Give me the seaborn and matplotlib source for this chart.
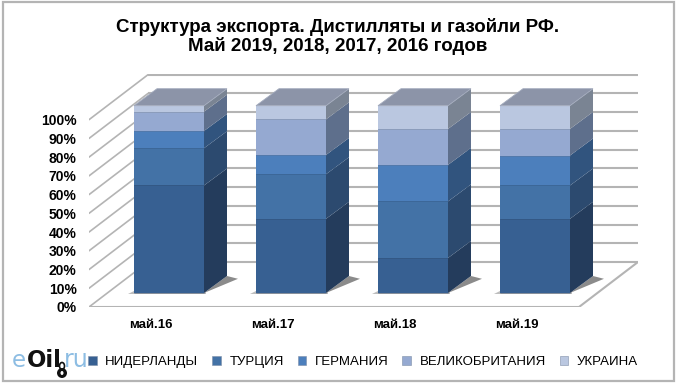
import matplotlib
matplotlib.use("Agg")
import matplotlib.pyplot as plt
from matplotlib.patches import Polygon, Rectangle, Ellipse
import seaborn as sns

W, H = 680, 385

# data
months = ["май.16", "май.17", "май.18", "май.19"]
niderlandy = [57.4, 39.6, 18.7, 39.6]
turtsiya = [19.9, 23.8, 30.2, 17.8]
germaniya = [9.2, 10.3, 19.5, 16.0]
velikobritaniya = [10.3, 19.0, 19.2, 14.2]
ukraina = [3.2, 7.3, 12.4, 12.4]
series_names = ["НИДЕРЛАНДЫ", "ТУРЦИЯ", "ГЕРМАНИЯ", "ВЕЛИКОБРИТАНИЯ", "УКРАИНА"]
pct_ticks = list(range(0, 101, 10))

series = [niderlandy, turtsiya, germaniya, velikobritaniya, ukraina]
front_cols = ["#376092", "#4372A6", "#4C7FBC", "#95A9D1", "#BAC7E0"]
side_cols = ["#243C5C", "#2C4A6F", "#31547E", "#5E6F8C", "#7A8493"]
top_col = "#8C94A8"

sns.set_theme(style="white")
plt.rcParams["font.family"] = ["Liberation Sans", "DejaVu Sans"]

fig = plt.figure(figsize=(W / 100, H / 100), dpi=100, facecolor="white")

# frame round the chart
fig.add_artist(Rectangle((3 / W, 1 - 381 / H), 671 / W, 379 / H, transform=fig.transFigure,
                         fill=False, ec="#B4B4B4", lw=1.6))

# axes box in pixels, 0% sits on the bar base at y=293
px_left, px_right, px_top, px_bot = 89, 638, 74, 307
ax = fig.add_axes([px_left / W, 1 - px_bot / H, (px_right - px_left) / W, (px_bot - px_top) / H])
ax.patch.set_alpha(0)
sns.despine(ax=ax, left=True, bottom=True)

px_per_pct = 1.873
px_per_cat = 122.0
ax.set_xlim((89 - 169) / px_per_cat, (638 - 169) / px_per_cat)
ylim = (-(307 - 293) / px_per_pct, (293 - 74) / px_per_pct)

wall_dx = 59 / px_per_cat   # side wall depth
wall_dy = 45 / px_per_pct
x_front_left = ax.get_xlim()[0]
x_back_left = x_front_left + wall_dx
x_right = ax.get_xlim()[1]
y0_front = ylim[0]
grid_col = "#B4B4B4"

# back wall + side wall grid
for p in pct_ticks:
    y_f = y0_front + p
    y_b = y_f + wall_dy
    ax.plot([x_back_left, x_right], [y_b, y_b], color=grid_col, lw=1.5, zorder=1, solid_capstyle="butt")
    ax.plot([x_front_left, x_back_left], [y_f, y_b], color=grid_col, lw=1.2, zorder=1)
# floor
ax.plot([x_front_left, x_right - wall_dx, x_right],
        [y0_front, y0_front, y0_front + wall_dy], color=grid_col, lw=1.5, zorder=1)

# bars
bar_w = 70 / px_per_cat
dep_x = 23 / px_per_cat
dep_y = 17 / px_per_pct
bottoms = [0.0] * len(months)
for vals, col in zip(series, front_cols):
    sns.barplot(x=months, y=vals, bottom=bottoms, color=col, saturation=1, width=bar_w,
                order=months, ax=ax, zorder=4, linewidth=0, err_kws={"linewidth": 0})
    bottoms = [b + v for b, v in zip(bottoms, vals)]

ax.set_xlim(x_front_left, x_right)
ax.set_ylim(*ylim)

# 3D faces and floor shadow, worked out from the same values
for i in range(len(months)):
    xl, xr = i - bar_w / 2, i + bar_w / 2
    ax.add_patch(Polygon([(xr, 0), (xr + dep_x + 0.09, dep_y - 1.5), (xr + dep_x, dep_y)],
                         closed=True, fc="#6E6E6E", ec="none", alpha=0.8, zorder=2))
    ax.add_patch(Polygon([(xl - 0.05, -0.7), (xr + 0.02, -0.7), (xr + 0.02, 1), (xl, 1)],
                         closed=True, fc="#A8A8A8", ec="none", alpha=0.75, zorder=2))
    b = 0.0
    for vals, scol, fcol in zip(series, side_cols, front_cols):
        v = vals[i]
        ax.add_patch(Polygon([(xr, b), (xr + dep_x, b + dep_y), (xr + dep_x, b + v + dep_y), (xr, b + v)],
                             closed=True, fc=scol, ec="none", zorder=4))
        ax.plot([xl, xr], [b, b], color=scol, lw=0.5, alpha=0.5, zorder=5)
        b += v
    ax.add_patch(Polygon([(xl, b), (xr, b), (xr + dep_x, b + dep_y), (xl + dep_x, b + dep_y)],
                         closed=True, fc=top_col, ec="#A3ABBD", lw=0.6, zorder=4))

# ticks: y labels sit on the front edge of the side wall
ax.set_yticks([y0_front + p for p in pct_ticks])
ax.set_yticklabels([f"{p}%" for p in pct_ticks], fontsize=10, fontweight="bold", color="black")
ax.tick_params(axis="y", length=0, pad=9)
# x labels are off-centre to the left of the bars, as in the picture
ax.set_xticks([i - 18 / px_per_cat for i in range(len(months))])
ax.set_xticklabels(months, fontsize=9.5, fontweight="bold", color="black")
ax.tick_params(axis="x", length=0, pad=9)
ax.set_xlabel("")
ax.set_ylabel("")

fig.text(338 / W, 1 - 36.5 / H, "Структура экспорта. Дистилляты и газойли РФ.\nМай 2019, 2018, 2017, 2016 годов",
         ha="center", va="center", fontsize=13.5, fontweight="bold", color="black", linespacing=1.1)

# legend
handles = [Rectangle((0, 0), 1, 1, fc=c, ec="#7F8FA8", lw=0.4) for c in front_cols]
fig.legend(handles, series_names, loc="center", bbox_to_anchor=(363 / W, 1 - 362 / H), ncol=5, frameon=False,
           fontsize=9.5, handlelength=0.65, handleheight=0.65, handletextpad=0.65, columnspacing=1.05,
           labelcolor="black")

# logo
logo_y = 1 - 367 / H
fig.text(12 / W, logo_y, "e", fontsize=16.5, color="#8DBDE3", family="DejaVu Sans")
fig.text(27 / W, logo_y, "Oil", fontsize=16.5, color="#111111", family="DejaVu Sans", fontweight="bold")
fig.text(64 / W, logo_y, "ru", fontsize=17, color="#8DBDE3", family="DejaVu Sans")
fig.add_artist(Ellipse((62 / W, 1 - 373 / H), 10 / W, 10 / H, transform=fig.transFigure, fc="#111111", ec="none"))
fig.add_artist(Ellipse((62 / W, 1 - 366 / H), 5 / W, 7 / H, transform=fig.transFigure, fc="none", ec="#111111", lw=1.2))
fig.add_artist(Ellipse((62 / W, 1 - 373 / H), 3 / W, 4 / H, transform=fig.transFigure, fc="white", ec="none"))

fig.savefig("out.png", dpi=100, facecolor="white")
